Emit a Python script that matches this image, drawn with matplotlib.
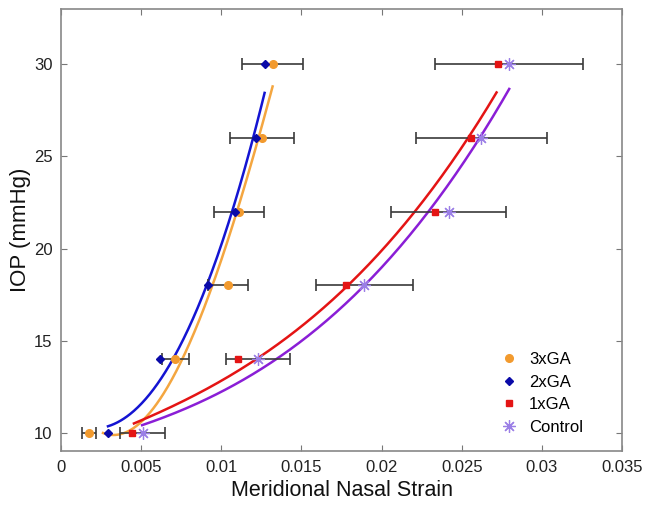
import numpy as np
import matplotlib
matplotlib.use("Agg")
import matplotlib.pyplot as plt

plt.rcParams['font.family'] = ['Liberation Sans', 'DejaVu Sans']

# ---- data ----
iop = [10, 14, 18, 22, 26, 30]
ga3 = [0.00174, 0.00714, 0.01042, 0.01113, 0.01254, 0.01322]
ga3_err = [0.00045, 0.00083, 0.00125, 0.00156, 0.00197, 0.0019]
ga2 = [0.00293, 0.0062, 0.00917, 0.01088, 0.01216, 0.0127]
ga1 = [0.00444, 0.01104, 0.01777, 0.02335, 0.02555, 0.02723]
ctrl = [0.0051, 0.01229, 0.01893, 0.02418, 0.02623, 0.02796]
ctrl_err = [0.0014, 0.002, 0.003, 0.0036, 0.0041, 0.0046]

# fitted curves: points (strain, IOP)
fit3_s = [0.00262, 0.0035, 0.00455, 0.0057, 0.0075, 0.00953, 0.01094, 0.01229, 0.0132]
fit3_p = [10.0, 9.9, 10.2, 11.3, 14.0, 18.0, 22.0, 26.0, 28.74]
fit2_s = [0.00293, 0.00466, 0.0061, 0.00672, 0.00911, 0.01067, 0.01202, 0.0127]
fit2_p = [10.43, 11.1, 12.56, 14.0, 18.0, 22.0, 26.0, 28.56]
fit1_s = [0.00455, 0.0084, 0.0120, 0.01804, 0.02198, 0.0254, 0.02717]
fit1_p = [10.52, 12.0, 14.0, 18.0, 22.0, 26.0, 28.47]
fitc_s = [0.00506, 0.00984, 0.01314, 0.01898, 0.02291, 0.02613, 0.02796]
fitc_p = [10.45, 12.0, 14.0, 18.0, 22.0, 26.0, 28.69]

xticks = [0, 0.005, 0.01, 0.015, 0.02, 0.025, 0.03, 0.035]
xticklabels = ['0', '0.005', '0.01', '0.015', '0.02', '0.025', '0.03', '0.035']
yticks = [10, 15, 20, 25, 30]

c_orange = '#F29A2E'
c_orange_line = '#F4A640'
c_blue = '#0A0AA8'
c_blue_line = '#1414D2'
c_red = '#E41414'
c_purple_line = '#8A1ED6'
c_ctrl = '#9B7FE6'
c_err = '#3A3A3A'

fig = plt.figure(figsize=(6.49, 5.07), dpi=100)
ax = fig.add_axes([0.094, 0.110, 0.8645, 0.872])


def curve(s, p, deg, color):
    s = np.asarray(s) * 1000.0
    coef = np.polyfit(s, p, deg)
    xs = np.linspace(s.min(), s.max(), 200)
    ax.plot(xs / 1000.0, np.polyval(coef, xs), color=color, lw=1.8, zorder=2)


curve(fit3_s, fit3_p, 3, c_orange_line)
curve(fit2_s, fit2_p, 3, c_blue_line)
curve(fit1_s, fit1_p, 3, c_red)
curve(fitc_s, fitc_p, 3, c_purple_line)

ax.errorbar(ga3, iop, xerr=ga3_err, fmt='none', ecolor=c_err, elinewidth=1.2,
            capsize=4, capthick=1.2, zorder=3)
ax.errorbar(ctrl, iop, xerr=ctrl_err, fmt='none', ecolor=c_err, elinewidth=1.2,
            capsize=4, capthick=1.2, zorder=3)

ax.plot(ga3, iop, 'o', color=c_orange, ms=5.5, mec=c_orange, ls='none', label='3xGA', zorder=4)
ax.plot(ga2, iop, 'D', color=c_blue, ms=4.5, mec=c_blue, ls='none', label='2xGA', zorder=5)
ax.plot(ga1, iop, 's', color=c_red, ms=5, mec=c_red, ls='none', label='1xGA', zorder=4)
ax.plot(ctrl, iop, marker=(8, 2, 0), color=c_ctrl, ms=9, mew=0.9, ls='none',
        label='Control', zorder=4)

ax.set_xlim(0, 0.035)
ax.set_ylim(9, 33)
ax.set_xticks(xticks)
ax.set_xticklabels(xticklabels)
ax.set_yticks(yticks)
ax.tick_params(direction='in', length=4, width=0.8, color='#777777',
               top=True, right=True, labelsize=12, labelcolor='#222222', pad=6)
for sp in ax.spines.values():
    sp.set_color('#888888')
    sp.set_linewidth(1.2)

ax.set_xlabel('Meridional Nasal Strain', fontsize=15.5, color='#111111', labelpad=4)
ax.set_ylabel('IOP (mmHg)', fontsize=16, color='#111111', labelpad=2)

leg = ax.legend(loc='lower right', frameon=False, fontsize=12, handletextpad=0.6,
                handlelength=1.2, borderaxespad=0.6, labelspacing=0.45,
                bbox_to_anchor=(0.96, 0.0))

fig.savefig('out.png', dpi=100)
